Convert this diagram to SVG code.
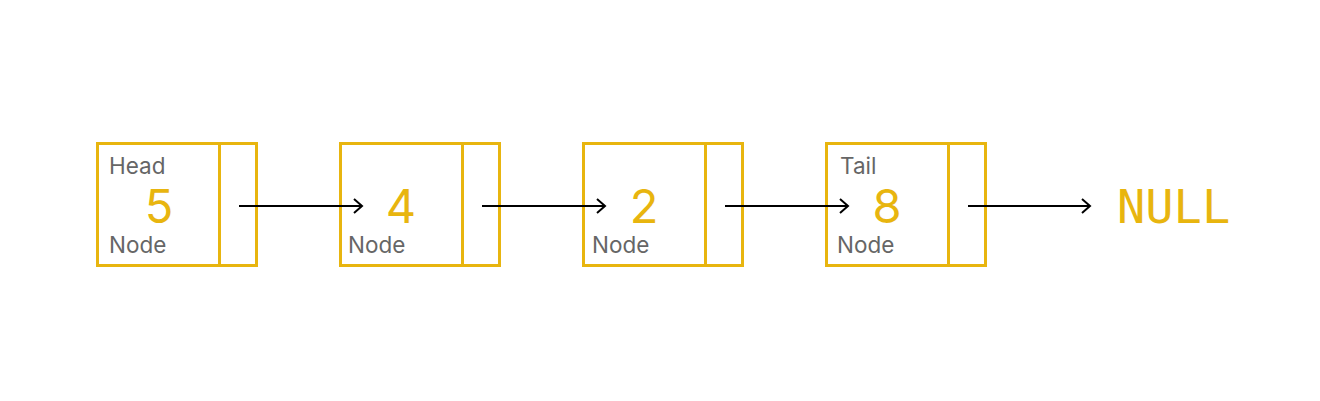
<svg xmlns="http://www.w3.org/2000/svg" width="1320" height="401" viewBox="0 0 1320 401">
<defs>
<style>
.box{fill:none;stroke:#e8b50f;stroke-width:3}
.lbl{font-family:Inter,"Noto Sans",sans-serif;font-size:22.5px;fill:#666}
.num{font-family:Inter,"Noto Sans",sans-serif;font-size:47px;fill:#e8b50f;text-anchor:middle}
.null{font-family:"DejaVu Sans Mono",monospace;font-size:47px;fill:#e8b50f}
.conn{stroke:#000;stroke-width:2;fill:none}
</style>
<marker id="arr" markerWidth="14" markerHeight="18" refX="12" refY="9" orient="auto" markerUnits="userSpaceOnUse">
<path d="M4,2 L12,9 L4,16" fill="none" stroke="#000" stroke-width="2"/>
</marker>
</defs>
<rect width="1320" height="401" fill="#fff"/>
<g id="node-head">
<rect class="box" x="97.5" y="143.5" width="159" height="122"/>
<line class="box" x1="219.5" y1="143.5" x2="219.5" y2="265.5"/>
<text class="lbl" x="109" y="174">Head</text>
<text class="num" x="159" y="223">5</text>
<text class="lbl" x="109" y="253">Node</text>
</g>
<g id="node-2">
<rect class="box" x="340.5" y="143.5" width="159" height="122"/>
<line class="box" x1="462.5" y1="143.5" x2="462.5" y2="265.5"/>
<text class="num" x="401" y="223">4</text>
<text class="lbl" x="348" y="253">Node</text>
</g>
<g id="node-3">
<rect class="box" x="583.5" y="143.5" width="159" height="122"/>
<line class="box" x1="705.5" y1="143.5" x2="705.5" y2="265.5"/>
<text class="num" x="644" y="223">2</text>
<text class="lbl" x="592" y="253">Node</text>
</g>
<g id="node-tail">
<rect class="box" x="826.5" y="143.5" width="159" height="122"/>
<line class="box" x1="948.5" y1="143.5" x2="948.5" y2="265.5"/>
<text class="lbl" x="840" y="174">Tail</text>
<text class="num" x="887" y="223">8</text>
<text class="lbl" x="837" y="253">Node</text>
</g>
<g id="null">
<text class="null" x="1117" y="223">NULL</text>
</g>
<g id="connectors">
<line class="conn" x1="239" y1="206" x2="362" y2="206" marker-end="url(#arr)"/>
<line class="conn" x1="482" y1="206" x2="605" y2="206" marker-end="url(#arr)"/>
<line class="conn" x1="725" y1="206" x2="848" y2="206" marker-end="url(#arr)"/>
<line class="conn" x1="968" y1="206" x2="1090" y2="206" marker-end="url(#arr)"/>
</g>
</svg>
